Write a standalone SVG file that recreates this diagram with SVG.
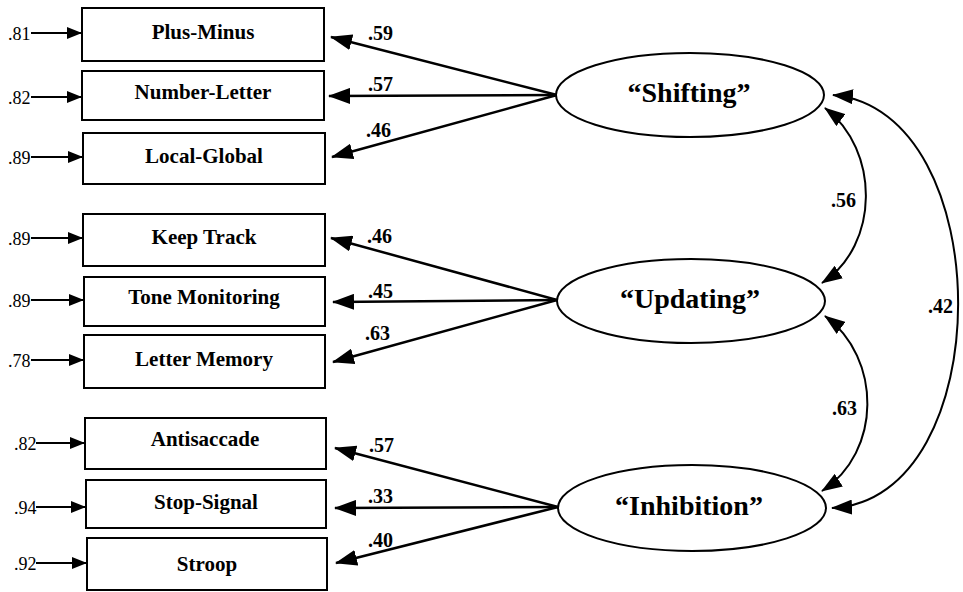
<svg xmlns="http://www.w3.org/2000/svg" width="963" height="592" viewBox="0 0 963 592">
<style>
  .box { fill: #fff; stroke: #000; stroke-width: 2; }
  .lat { fill: #fff; stroke: #000; stroke-width: 2; }
  .blabel { font-family: "Liberation Serif", "Times New Roman", serif; font-weight: bold; font-size: 21px; text-anchor: middle; fill: #000; }
  .llabel { font-family: "Liberation Serif", "Times New Roman", serif; font-weight: bold; font-size: 28px; text-anchor: middle; fill: #000; }
  .num { font-family: "Liberation Serif", "Times New Roman", serif; font-weight: bold; font-size: 20px; fill: #000; }
  .err { font-family: "Liberation Serif", "Times New Roman", serif; font-size: 18px; fill: #000; }
  .load { stroke: #000; stroke-width: 2.5; fill: none; marker-end: url(#bigHead); }
  .errline { stroke: #000; stroke-width: 2; fill: none; marker-end: url(#smallHead); }
  .cov { stroke: #000; stroke-width: 2; fill: none; marker-start: url(#curveHead); marker-end: url(#curveHead); }
</style>
<defs>
  <marker id="bigHead" markerUnits="userSpaceOnUse" markerWidth="22" markerHeight="16" refX="21" refY="8" orient="auto">
    <path d="M0,0 L22,8 L0,16 z" fill="#000"/>
  </marker>
  <marker id="smallHead" markerUnits="userSpaceOnUse" markerWidth="15" markerHeight="12" refX="14" refY="6" orient="auto">
    <path d="M0,0 L15,6 L0,12 z" fill="#000"/>
  </marker>
  <marker id="curveHead" markerUnits="userSpaceOnUse" markerWidth="21" markerHeight="15" refX="20" refY="7.5" orient="auto-start-reverse">
    <path d="M0,0 L21,7.5 L0,15 z" fill="#000"/>
  </marker>
</defs>
<rect width="963" height="592" fill="#fff"/>

<g id="connectors">
  <!-- error arrows -->
  <line class="errline" x1="31" y1="33" x2="81" y2="33"/>
  <line class="errline" x1="31" y1="97" x2="81" y2="97"/>
  <line class="errline" x1="31" y1="157" x2="82" y2="157"/>
  <line class="errline" x1="31" y1="238" x2="82" y2="238"/>
  <line class="errline" x1="31" y1="300" x2="83" y2="300"/>
  <line class="errline" x1="31" y1="360" x2="83" y2="360"/>
  <line class="errline" x1="36" y1="443" x2="84" y2="443"/>
  <line class="errline" x1="36" y1="507" x2="85" y2="507"/>
  <line class="errline" x1="36" y1="563" x2="86" y2="563"/>
  <!-- loadings -->
  <line class="load" x1="557" y1="95" x2="331" y2="37"/>
  <line class="load" x1="557" y1="95" x2="329" y2="96"/>
  <line class="load" x1="557" y1="95" x2="332" y2="157"/>
  <line class="load" x1="557" y1="300" x2="331" y2="238"/>
  <line class="load" x1="557" y1="300" x2="333" y2="302"/>
  <line class="load" x1="557" y1="300" x2="333" y2="362"/>
  <line class="load" x1="558" y1="507" x2="335" y2="448"/>
  <line class="load" x1="558" y1="507" x2="335" y2="508"/>
  <line class="load" x1="558" y1="507" x2="336" y2="563"/>
  <!-- correlations -->
  <path class="cov" d="M825,108 C880,150 880,245 822,283"/>
  <path class="cov" d="M825,316 C882,358 882,452 822,491"/>
  <path class="cov" d="M833,95 C1000,110 1000,500 832,508"/>
  <!-- labels -->
  <text class="num" x="368" y="40">.59</text>
  <text class="num" x="368" y="91">.57</text>
  <text class="num" x="366" y="137">.46</text>
  <text class="num" x="367" y="243">.46</text>
  <text class="num" x="368" y="298">.45</text>
  <text class="num" x="365" y="340">.63</text>
  <text class="num" x="369" y="452">.57</text>
  <text class="num" x="368" y="503">.33</text>
  <text class="num" x="368" y="547">.40</text>
  <text class="num" x="831" y="207">.56</text>
  <text class="num" x="832" y="415">.63</text>
  <text class="num" x="928" y="313">.42</text>
</g>

<g id="err-labels">
  <text class="err" x="8" y="40">.81</text>
  <text class="err" x="8" y="104">.82</text>
  <text class="err" x="8" y="164">.89</text>
  <text class="err" x="8" y="245">.89</text>
  <text class="err" x="8" y="307">.89</text>
  <text class="err" x="8" y="367">.78</text>
  <text class="err" x="14" y="450">.82</text>
  <text class="err" x="14" y="514">.94</text>
  <text class="err" x="14" y="570">.92</text>
</g>

<g id="plus-minus"><rect class="box" x="82" y="8" width="242" height="53"/><text class="blabel" x="203" y="39">Plus-Minus</text></g>
<g id="number-letter"><rect class="box" x="82" y="71" width="242" height="49"/><text class="blabel" x="203" y="99">Number-Letter</text></g>
<g id="local-global"><rect class="box" x="83" y="133" width="242" height="51"/><text class="blabel" x="204" y="163">Local-Global</text></g>
<g id="keep-track"><rect class="box" x="83" y="214" width="242" height="52"/><text class="blabel" x="204" y="244">Keep Track</text></g>
<g id="tone-monitoring"><rect class="box" x="84" y="277" width="241" height="49"/><text class="blabel" x="204" y="304">Tone Monitoring</text></g>
<g id="letter-memory"><rect class="box" x="84" y="335" width="241" height="53"/><text class="blabel" x="204" y="366">Letter Memory</text></g>
<g id="antisaccade"><rect class="box" x="85" y="418" width="241" height="51"/><text class="blabel" x="205" y="446">Antisaccade</text></g>
<g id="stop-signal"><rect class="box" x="86" y="480" width="240" height="48"/><text class="blabel" x="206" y="509">Stop-Signal</text></g>
<g id="stroop"><rect class="box" x="87" y="538" width="240" height="52"/><text class="blabel" x="207" y="571">Stroop</text></g>

<g id="shifting"><ellipse class="lat" cx="690" cy="95" rx="134" ry="42"/><text class="llabel" x="689" y="102">“Shifting”</text></g>
<g id="updating"><ellipse class="lat" cx="691" cy="301" rx="134" ry="42"/><text class="llabel" x="690" y="308">“Updating”</text></g>
<g id="inhibition"><ellipse class="lat" cx="692" cy="508" rx="134" ry="43"/><text class="llabel" x="689" y="515">“Inhibition”</text></g>
</svg>
